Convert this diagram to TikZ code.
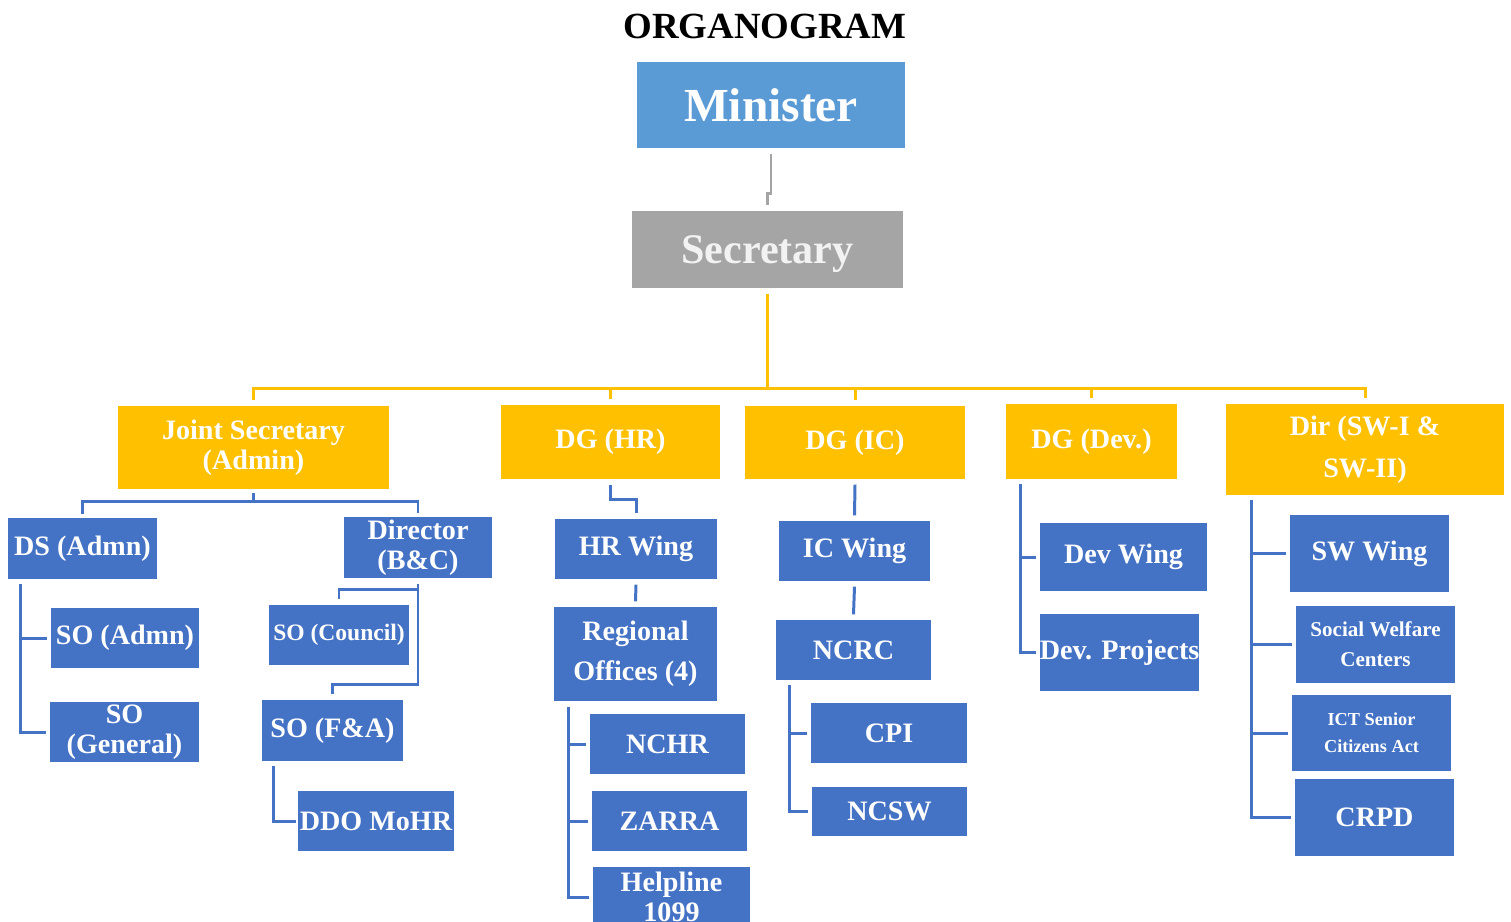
\documentclass[tikz,border=0pt]{standalone}
\usepackage{fontspec}
\setmainfont{Liberation Serif}
\usetikzlibrary{calc}
\definecolor{minblue}{HTML}{5B9BD5}
\definecolor{secgray}{HTML}{A5A5A5}
\definecolor{wingyellow}{HTML}{FFC000}
\definecolor{unitblue}{HTML}{4472C4}
\begin{document}
\begin{tikzpicture}[x=0.02cm, y=-0.02cm,
    box/.style={rectangle, inner sep=0pt, align=center, text=white, font=\bfseries\fontsize{16}{17}\selectfont},
    sz/.style 2 args={minimum width=#1cm, minimum height=#2cm},
    head/.style={box, fill=wingyellow},
    unit/.style={box, fill=unitblue},
    yline/.style={draw=wingyellow, line width=1.7pt},
    bline/.style={draw=unitblue, line width=1.7pt},
    gline/.style={draw=secgray, line width=1.4pt}]
    \useasboundingbox[fill=white] (0,0) rectangle (1511,921);
    \clip (0,0) rectangle (1511,921);

    \node (title) at (765,26) {\bfseries\fontsize{21}{24}\selectfont ORGANOGRAM};
    \node[box, fill=minblue, sz={5.36}{1.72}, font=\bfseries\fontsize{27}{30}\selectfont] (minister) at (771,105) {Minister};
    \node[box, fill=secgray, sz={5.42}{1.54}, text depth=0pt, text=white!95!black, font=\bfseries\fontsize{24}{27}\selectfont] (secretary) at (767.5,249.5) {Secretary};

    % top row
    \node[head, sz={5.42}{1.66}] (js) at (253.5,447.5) {Joint Secretary\\(Admin)};
    \node[head, sz={4.38}{1.48}] (dghr) at (610.5,442) {DG (HR)};
    \node[head, sz={4.40}{1.46}] (dgic) at (855,442.5) {DG (IC)};
    \node[head, sz={3.42}{1.50}] (dgdev) at (1091.5,441.5) {DG (Dev.)};
    \node[head, sz={5.56}{1.82}, font=\bfseries\fontsize{16}{24}\selectfont] (dirsw) at (1365,449.5) {Dir (SW-I \&\\SW-II)};

    % admin side
    \node[unit, sz={2.98}{1.22}] (ds) at (82.5,548.5) {DS (Admn)};
    \node[unit, sz={2.96}{1.22}] (dir) at (418,547.5) {Director\\(B\&C)};
    \node[unit, sz={2.96}{1.20}] (soadmn) at (125,638) {SO (Admn)};
    \node[unit, sz={2.98}{1.20}] (sogen) at (124.5,732) {SO\\(General)};
    \node[unit, sz={2.80}{1.20}, font=\bfseries\fontsize{13.4}{15}\selectfont] (socouncil) at (339,635) {SO (Council)};
    \node[unit, sz={2.82}{1.22}] (sofa) at (332.5,730.5) {SO (F\&A)};
    \node[unit, sz={3.12}{1.20}] (ddo) at (376,821) {DDO MoHR};

    % HR side
    \node[unit, sz={3.24}{1.20}] (hrwing) at (636,549) {HR Wing};
    \node[unit, sz={3.26}{1.88}, font=\bfseries\fontsize{16}{22.7}\selectfont] (regional) at (635.5,654) {Regional\\Offices (4)};
    \node[unit, sz={3.10}{1.20}] (nchr) at (667.5,744) {NCHR};
    \node[unit, sz={3.10}{1.20}] (zarra) at (669.5,821) {ZARRA};
    \node[unit, sz={3.14}{1.20}] (helpline) at (671.5,897) {Helpline\\1099};

    % IC side
    \node[unit, sz={3.02}{1.20}] (icwing) at (854.5,551) {IC Wing};
    \node[unit, sz={3.10}{1.20}] (ncrc) at (853.5,650) {NCRC};
    \node[unit, sz={3.12}{1.20}] (cpi) at (889,733) {CPI};
    \node[unit, sz={3.10}{0.98}] (ncsw) at (889.5,811.5) {NCSW};

    % Dev side
    \node[unit, sz={3.34}{1.36}] (devwing) at (1123.5,557) {Dev Wing};
    \node[unit, sz={3.18}{1.54}] (devproj) at (1119.5,652.5) {Dev. Projects};

    % SW side
    \node[unit, sz={3.18}{1.54}] (swwing) at (1369.5,553.5) {SW Wing};
    \node[unit, sz={3.18}{1.54}, font=\bfseries\fontsize{12}{17}\selectfont] (swc) at (1375.5,644.5) {Social Welfare\\Centers};
    \node[unit, sz={3.18}{1.52}, font=\bfseries\fontsize{10.4}{15.3}\selectfont] (ict) at (1371.5,733) {ICT Senior\\Citizens Act};
    \node[unit, sz={3.18}{1.54}] (crpd) at (1374.5,817.5) {CRPD};

    % links
    \draw[gline] ([yshift=-3pt]minister.south) -- ++(0,40) -| ([yshift=3pt]secretary.north);
    \draw[yline] ([yshift=-3pt]secretary.south) -- ++(0,95) coordinate (topbus);
    \foreach \n in {js,dghr,dgic,dgdev,dirsw}
        \draw[yline] (topbus) -| ([yshift=3pt]\n.north);

    \draw[bline] ([yshift=-2pt]js.south) -- ++(0,9) coordinate (jsbus);
    \draw[bline] (jsbus) -| ([yshift=2pt]ds.north);
    \draw[bline] (jsbus) -| ([yshift=2pt]dir.north);
    \draw[bline] ($(ds.south west)+(13,5)$) |- ([xshift=-2pt]soadmn.west);
    \draw[bline] ($(ds.south west)+(13,5)$) |- ([xshift=-2pt]sogen.west);
    \draw[bline] ([yshift=-3pt]dir.south) -- ++(0,6) -| ([yshift=3pt]socouncil.north);
    \draw[bline] ([yshift=-3pt]dir.south) -- ++(0,101) -| ([yshift=3pt]sofa.north);
    \draw[bline] ($(sofa.south west)+(12,5)$) |- ([xshift=-1pt]ddo.west);

    \draw[bline] ([yshift=-3pt]dghr.south) -- ++(0,15) -| ([yshift=3pt]hrwing.north);
    \draw[bline] ([yshift=-3pt]hrwing.south) -- ([yshift=3pt]regional.north);
    \foreach \n in {nchr,zarra,helpline}
        \draw[bline] ($(regional.south west)+(15,6)$) |- ([xshift=-2pt]\n.west);

    \draw[bline] ([yshift=-3pt]dgic.south) -- ([yshift=3pt]icwing.north);
    \draw[bline] ([yshift=-3pt]icwing.south) -- ([yshift=3pt]ncrc.north);
    \foreach \n in {cpi,ncsw}
        \draw[bline] ($(ncrc.south west)+(14,5)$) |- ([xshift=-2pt]\n.west);

    \foreach \n in {devwing,devproj}
        \draw[bline] ($(dgdev.south west)+(15,5)$) |- ([xshift=-2pt]\n.west);

    \foreach \n in {swwing,swc,ict,crpd}
        \draw[bline] ($(dirsw.south west)+(26,5)$) |- ([xshift=-2pt]\n.west);
\end{tikzpicture}
\end{document}
